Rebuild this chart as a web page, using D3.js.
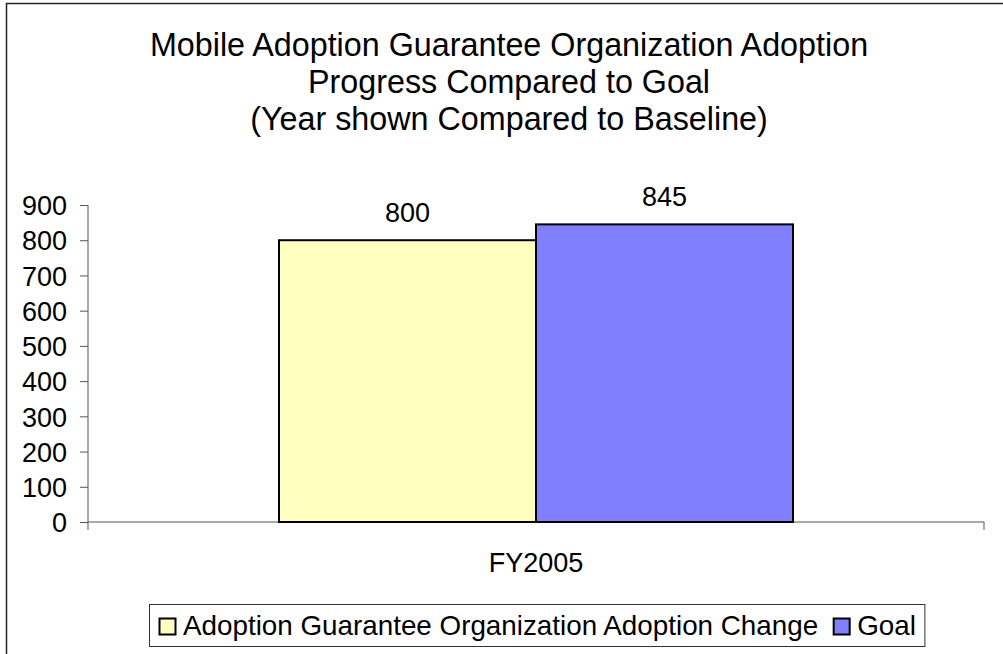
<!DOCTYPE html>
<html>
<head>
<meta charset="utf-8">
<script src="https://cdn.jsdelivr.net/npm/d3@7"></script>
<style>
  body { margin: 0; background: #fff; }
  text { font-family: "Liberation Sans", Arial, sans-serif; fill: #000; }
</style>
</head>
<body>
<div id="chart"></div>
<script>
// data
var categories = ["FY2005"];
var seriesNames = ["Adoption Guarantee Organization Adoption Change", "Goal"];
var seriesColors = ["#FFFFC0", "#8080FF"];
var changeValues = [800];
var goalValues = [845];
var yTicks = [0, 100, 200, 300, 400, 500, 600, 700, 800, 900];
var titleLines = [
    "Mobile Adoption Guarantee Organization Adoption",
    "Progress Compared to Goal",
    "(Year shown Compared to Baseline)"
];

var svgWidth = 1003;
var svgHeight = 654;

var margin = {
    top: 205,
    right: 19,
    bottom: 132,
    left: 88
};

var width = svgWidth - margin.left - margin.right;
var height = svgHeight - margin.top - margin.bottom;

var svg = d3.select("#chart")
    .append("svg")
    .attr("width", svgWidth)
    .attr("height", svgHeight);

// chart area border
svg.append("rect")
    .attr("x", 6.5)
    .attr("y", 3.5)
    .attr("width", 1010)
    .attr("height", 670)
    .attr("fill", "white")
    .attr("stroke", "#222")
    .attr("stroke-width", 1.5);

// title
svg.append("g")
    .selectAll("text")
    .data(titleLines)
    .enter()
    .append("text")
    .attr("x", 509)
    .attr("y", (d, i) => 56 + i * 37)
    .attr("text-anchor", "middle")
    .style("font-size", "32.3px")
    .text(d => d);

var chartGroup = svg.append("g")
    .attr("transform", `translate(${margin.left}, ${margin.top})`);

var rows = categories.map((c, i) => ({
    category: c,
    values: [changeValues[i], goalValues[i]]
}));

var x0 = d3.scaleBand()
    .domain(categories)
    .range([0, width])
    .paddingInner(0)
    .paddingOuter(0.3716);

var x1 = d3.scaleBand()
    .domain(seriesNames)
    .range([0, x0.bandwidth()]);

var yLinearScale = d3.scaleLinear()
    .domain([0, 900])
    .range([height, 0]);

// axes
var leftAxis = d3.axisLeft(yLinearScale)
    .tickValues(yTicks)
    .tickSize(8)
    .tickPadding(13);

var yAxis = chartGroup.append("g")
    .call(leftAxis);
yAxis.select(".domain").attr("d", `M0,0V${height + 8}`).attr("stroke", "#555");
yAxis.selectAll(".tick line").attr("stroke", "#555");
yAxis.selectAll(".tick text")
    .style("font-size", "27px")
    .style("font-family", "'Liberation Sans', Arial, sans-serif")
    .attr("fill", "#000")
    .attr("dy", "0.36em");

var bottomAxis = d3.axisBottom(x0)
    .tickSize(0)
    .tickPadding(31);

var xAxis = chartGroup.append("g")
    .attr("transform", `translate(0, ${height})`)
    .call(bottomAxis);
xAxis.select(".domain").attr("d", `M0,0H${width}V8`).attr("stroke", "#555");
xAxis.selectAll(".tick text")
    .style("font-size", "27px")
    .style("font-family", "'Liberation Sans', Arial, sans-serif")
    .attr("fill", "#000");

// bars
var groups = chartGroup.selectAll(".cat")
    .data(rows)
    .enter()
    .append("g")
    .attr("class", "cat")
    .attr("transform", d => `translate(${x0(d.category)}, 0)`);

groups.selectAll("rect")
    .data(d => d.values.map((v, i) => ({ name: seriesNames[i], value: v, color: seriesColors[i] })))
    .enter()
    .append("rect")
    .attr("x", d => x1(d.name))
    .attr("y", d => yLinearScale(d.value))
    .attr("width", x1.bandwidth())
    .attr("height", d => height - yLinearScale(d.value))
    .attr("fill", d => d.color)
    .attr("stroke", "#000")
    .attr("stroke-width", 2);

groups.selectAll(".lbl")
    .data(d => d.values.map((v, i) => ({ name: seriesNames[i], value: v })))
    .enter()
    .append("text")
    .attr("class", "lbl")
    .attr("x", d => x1(d.name) + x1.bandwidth() / 2)
    .attr("y", d => yLinearScale(d.value) - 18)
    .attr("text-anchor", "middle")
    .style("font-size", "27px")
    .text(d => d.value);

// legend
var legend = svg.append("g");
var legendBox = legend.append("rect")
    .attr("x", 149.5)
    .attr("y", 604.5)
    .attr("height", 42)
    .attr("fill", "white")
    .attr("stroke", "#333")
    .attr("stroke-width", 1);

var lx = 159;
seriesNames.forEach(function(name, i) {
    legend.append("rect")
        .attr("x", lx + 0.5)
        .attr("y", 618.5)
        .attr("width", 16)
        .attr("height", 16)
        .attr("fill", seriesColors[i])
        .attr("stroke", "#000")
        .attr("stroke-width", 2);
    var t = legend.append("text")
        .attr("x", lx + 24)
        .attr("y", 635)
        .style("font-size", "27.8px")
        .text(name);
    lx = lx + 24 + t.node().getComputedTextLength() + 15;
});
legendBox.attr("width", lx - 149.5 - 6);
</script>
</body>
</html>
